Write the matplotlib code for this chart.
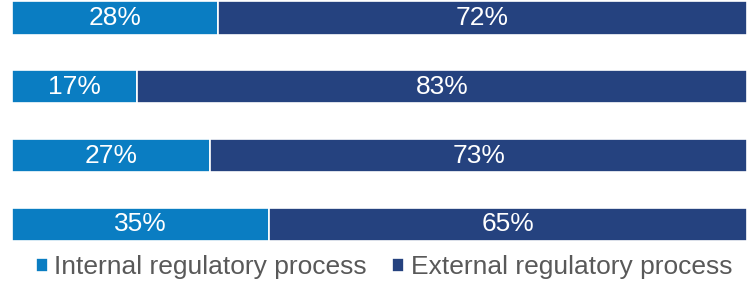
import matplotlib.pyplot as plt

plt.rcParams['font.family'] = ['Liberation Sans', 'DejaVu Sans']

# valores (de cima para baixo)
internal = [28, 17, 27, 35]
external = [72, 83, 73, 65]
series_names = ["Internal regulatory process", "External regulatory process"]
c_int = "#0a7dc2"
c_ext = "#25427f"

fig = plt.figure(figsize=(7.5, 2.87), dpi=100)
ax = fig.add_axes([12 / 750, (287 - 245) / 287, 735 / 750, 245 / 287])

pos = list(range(len(internal)))
ax.barh(pos, internal, height=0.48, color=c_int, edgecolor="white", linewidth=1.2,
        label=series_names[0])
ax.barh(pos, external, left=internal, height=0.48, color=c_ext, edgecolor="white",
        linewidth=1.2, label=series_names[1])

for i in pos:
    ax.text(internal[i] / 2, i, f"{internal[i]}%", ha="center", va="center",
            color="white", fontsize=19)
    ax.text(internal[i] + external[i] / 2, i, f"{external[i]}%", ha="center", va="center",
            color="white", fontsize=19)

ax.set_xlim(0, 100)
ax.set_ylim(3.298, -0.2615)
ax.axis("off")

leg = fig.legend(loc="center", bbox_to_anchor=(0.512, 1 - 267 / 287), ncol=2, frameon=False,
                 fontsize=19, handlelength=0.45, handleheight=0.45, handletextpad=0.25,
                 columnspacing=0.95, borderpad=0, borderaxespad=0)
for t in leg.get_texts():
    t.set_color("#595959")

fig.savefig("out.png", dpi=100)
